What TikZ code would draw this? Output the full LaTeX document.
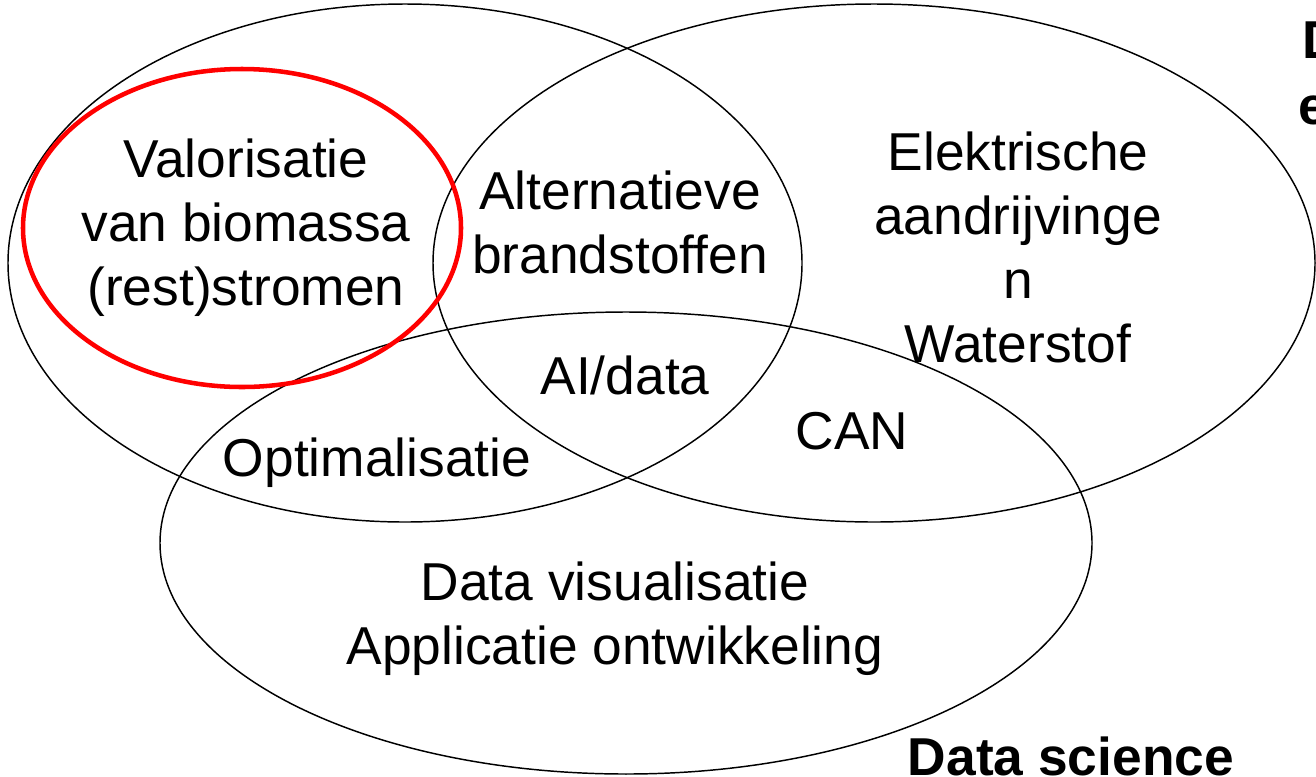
\documentclass[tikz,border=0pt]{standalone}
\usepackage{fontspec}
\setmainfont{Liberation Sans}
\begin{document}
\begin{tikzpicture}[x=0.75pt,y=-0.75pt,
  ring/.style={draw=black,line width=1.1pt},
  focus/.style={draw=red,line width=3.4pt},
  lbl/.style={inner sep=0pt,outer sep=0pt,align=center,anchor=base,
    font=\fontsize{40}{48}\selectfont},
  blbl/.style={lbl,font=\fontsize{40}{48}\selectfont\bfseries}]
\useasboundingbox (0,0) rectangle (1316,776);
\fill[white] (0,0) rectangle (1316,776);
% sets
\draw[ring] (405,263) ellipse [x radius=297.75pt, y radius=194.25pt];
\draw[ring] (874,263) ellipse [x radius=330.75pt, y radius=194.25pt];
\draw[ring] (626,543) ellipse [x radius=349.5pt, y radius=173.25pt];
\draw[focus] (242,228) ellipse [x radius=164.25pt, y radius=119.25pt];
% labels (anchor base = baseline of last line)
\node[lbl] (valo) at (246,305) {Valorisatie\\van biomassa\\(rest)stromen};
\node[lbl] (alt) at (620,273) {Alternatieve\\brandstoffen};
\node[lbl] (elek) at (1018,362) {Elektrische\\aandrijvinge\\n\\Waterstof};
\node[lbl] (ai) at (625,394) {AI/data};
\node[lbl] (can) at (852,449) {CAN};
\node[lbl] (opt) at (377,476) {Optimalisatie};
\node[lbl] (dvis) at (615,664) {Data visualisatie\\Applicatie ontwikkeling};
\node[blbl] (ds) at (1071,775) {Data science};
\node[blbl,anchor=base west] (tr1) at (1302,58) {D};
\node[blbl,anchor=base west] (tr2) at (1298,124) {e};
\end{tikzpicture}
\end{document}
